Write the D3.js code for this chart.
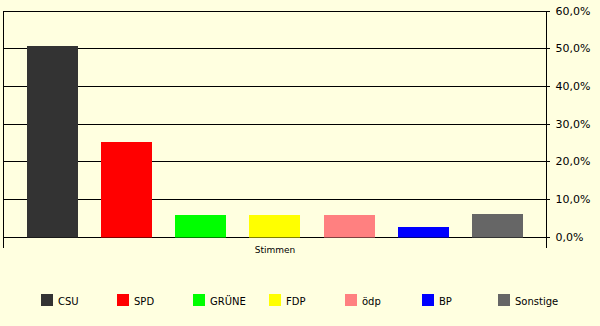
<!DOCTYPE html>
<html><head><meta charset="utf-8">
<script src="https://cdn.jsdelivr.net/npm/d3@7"></script>
<style>
html,body{margin:0;padding:0;background:#FFFFE0;}
svg{display:block;}
text{font-family:"DejaVu Sans",sans-serif;font-size:11px;fill:#000;}
</style></head><body>
<svg id="c" width="600" height="326"></svg>
<script>
const categories = ["CSU","SPD","GRÜNE","FDP","ödp","BP","Sonstige"];
const values = [50.5, 25.0, 5.6, 5.6, 5.6, 2.4, 6.1];
const colors = ["#333333","#FF0000","#00FF00","#FFFF00","#FF8080","#0000FF","#666666"];
const yTicks = [0,10,20,30,40,50,60];
const axisTitle = "Stimmen";

const svg = d3.select("#c");
const L = 3.5, R = 546.5, T = 10.5, B = 236.5;

const x = d3.scaleBand().domain(categories).range([L, R]).paddingInner(0.31).paddingOuter(0.31);
const y = d3.scaleLinear().domain([0,60]).range([B, T]);

// gridlines
svg.append("g").selectAll("line").data(yTicks).join("line")
  .attr("x1", L).attr("x2", R)
  .attr("y1", d => Math.round(y(d)) + 0.5).attr("y2", d => Math.round(y(d)) + 0.5)
  .attr("stroke", "#000").attr("stroke-width", 1).attr("shape-rendering","crispEdges");

// bars
svg.append("g").selectAll("rect").data(values).join("rect")
  .attr("x", (d,i) => Math.round(x(categories[i])))
  .attr("width", Math.round(x.bandwidth()))
  .attr("y", d => Math.round(y(d)))
  .attr("height", d => Math.round(y(0)) - Math.round(y(d)) + 0.5)
  .attr("fill", (d,i) => colors[i]);

// left border / category ticks
[L, R].forEach(xx => {
  svg.append("line").attr("x1", xx).attr("x2", xx)
    .attr("y1", T).attr("y2", B + 11)
    .attr("stroke","#000").attr("shape-rendering","crispEdges");
});

// right value axis
const yAxis = d3.axisRight(y).tickValues(yTicks).tickSize(3).tickPadding(6)
  .tickFormat(d => d3.format(".1f")(d).replace(".", ",") + "%");
const ag = svg.append("g").attr("transform", `translate(${R},0)`).call(yAxis);
ag.select(".domain").remove();
ag.selectAll(".tick line").attr("stroke","#000").attr("shape-rendering","crispEdges");
ag.selectAll("text").style("font-family","DejaVu Sans, sans-serif").style("font-size","11px").attr("fill","#000");

// axis title
svg.append("text").attr("x", (L + R) / 2).attr("y", 253)
  .attr("text-anchor","middle").style("font-size","9px").text(axisTitle);

// legend
const lg = svg.append("g").attr("transform","translate(41,294)");
const item = lg.selectAll("g").data(categories).join("g")
  .attr("transform", (d,i) => `translate(${Math.round(i*76.1)},0)`);
item.append("rect").attr("width",12).attr("height",12)
  .attr("fill", (d,i) => colors[i]);
item.append("text").attr("x",17).attr("y",10.5).style("font-size","10px").text(d => d);
</script>
</body></html>
